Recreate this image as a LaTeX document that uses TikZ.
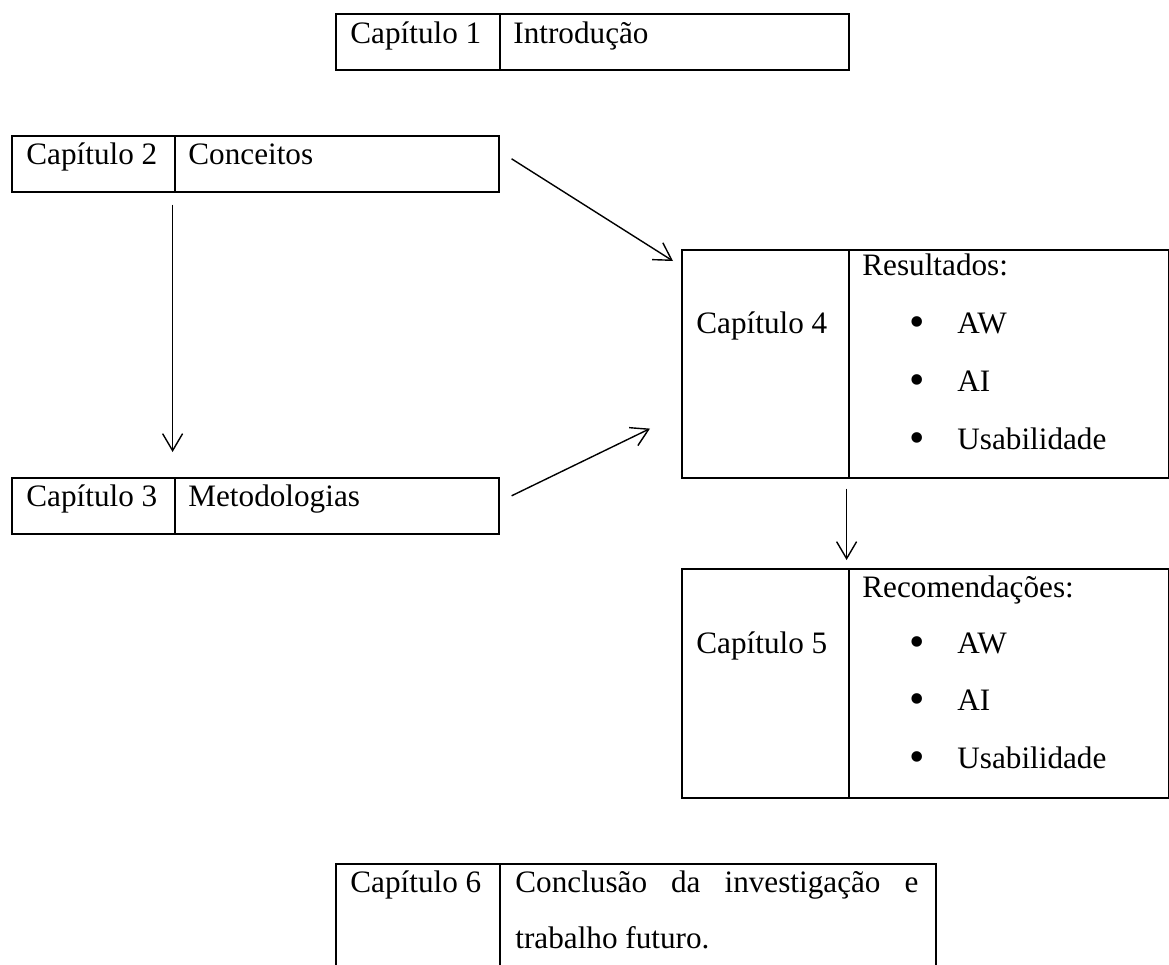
\documentclass[tikz,border=0pt]{standalone}
\usepackage{fontspec}
\setmainfont{Liberation Serif}
\usetikzlibrary{arrows.meta}
\begin{document}
\begin{tikzpicture}[x=0.5pt,y=-0.5pt,
  cell/.style={draw, line width=0.8pt, inner sep=0pt, anchor=north west},
  txt/.style={anchor=base west, inner sep=0pt, font=\fontsize{15.6}{18}\selectfont},
  dot/.style={anchor=base, inner sep=0pt, font=\fontsize{22}{22}\selectfont},
  arr/.style={line width=0.7pt, -{Straight Barb[length=8.5pt,width=10pt]}}]
\useasboundingbox (0,0) rectangle (1169,965);
\clip (0,0) rectangle (1169,965);

% Chapter 1
\node[cell, minimum width=82pt, minimum height=28pt] (c1a) at (335,13) {};
\node[cell, minimum width=174.5pt, minimum height=28pt] (c1b) at (499,13) {};
\node[txt] (t1a) at (350,43) {Capítulo 1};
\node[txt] (t1b) at (513,43) {Introdução};

% Chapter 2
\node[cell, minimum width=81.5pt, minimum height=28pt] (c2a) at (11,135) {};
\node[cell, minimum width=162pt, minimum height=28pt] (c2b) at (174,135) {};
\node[txt] (t2a) at (26,164) {Capítulo 2};
\node[txt] (t2b) at (188,164) {Conceitos};

% Chapter 3
\node[cell, minimum width=81.5pt, minimum height=28pt] (c3a) at (11,477) {};
\node[cell, minimum width=162pt, minimum height=28pt] (c3b) at (174,477) {};
\node[txt] (t3a) at (26,506) {Capítulo 3};
\node[txt] (t3b) at (188,506) {Metodologias};

% Chapter 4
\node[cell, minimum width=83.5pt, minimum height=114pt] (c4a) at (681,249) {};
\node[cell, minimum width=160pt, minimum height=114pt] (c4b) at (848,249) {};
\node[txt] (t4a) at (696,333) {Capítulo 4};
\node[txt] (t4b) at (862,275) {Resultados:};
\node[dot] (b4a) at (917,336) {\textbullet};
\node[dot] (b4b) at (917,394) {\textbullet};
\node[dot] (b4c) at (917,452) {\textbullet};
\node[txt] (i4a) at (957,333) {AW};
\node[txt] (i4b) at (957,391) {AI};
\node[txt] (i4c) at (957,449) {Usabilidade};

% Chapter 5
\node[cell, minimum width=83.5pt, minimum height=114.5pt] (c5a) at (681,568) {};
\node[cell, minimum width=160pt, minimum height=114.5pt] (c5b) at (848,568) {};
\node[txt] (t5a) at (696,653) {Capítulo 5};
\node[txt] (t5b) at (862,597) {Recomendações:};
\node[dot] (b5a) at (917,656) {\textbullet};
\node[dot] (b5b) at (917,713) {\textbullet};
\node[dot] (b5c) at (917,771) {\textbullet};
\node[txt] (i5a) at (957,653) {AW};
\node[txt] (i5b) at (957,710) {AI};
\node[txt] (i5c) at (957,768) {Usabilidade};

% Chapter 6
\node[cell, minimum width=82pt, minimum height=68.5pt] (c6a) at (335,863) {};
\node[cell, minimum width=218pt, minimum height=68.5pt] (c6b) at (499,863) {};
\node[txt] (t6a) at (350,892) {Capítulo 6};
\node[txt] (t6b) at (515,892) {\hbox to 201.5pt{Conclusão\hfill da\hfill investigação\hfill e}};
\node[txt] (t6c) at (515,948) {trabalho futuro.};

% Flow between chapters
\draw[arr] ([shift={(12,-5)}]c2b.east) -- ([shift={(-8,12)}]c4a.north west);
\draw[arr] ([shift={(12,-10)}]c3b.east) -- ([shift={(-31,-50)}]c4a.south west);
\draw[arr] ([shift={(-3,12)}]c2a.south east) -- ([shift={(-3,-25)}]c3a.north east);
\draw[arr] ([shift={(-3,10)}]c4a.south east) -- ([shift={(-3,-8)}]c5a.north east);
\end{tikzpicture}
\end{document}
